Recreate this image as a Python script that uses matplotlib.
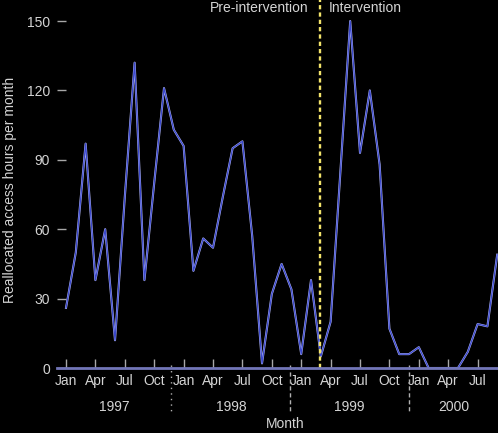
import numpy as np
import matplotlib
matplotlib.use("Agg")
import matplotlib.pyplot as plt
import matplotlib.transforms as mtransforms

# monthly reallocated access hours, Jan 1997 .. Sep 2000
hours = [26, 50, 97, 38, 60, 12, 74, 132, 38, 80, 121, 103,
         96, 42, 56, 52, 74, 95, 98, 57, 2, 32, 45, 34,
         6, 38, 5, 20, 85, 150, 93, 120, 88, 17, 6, 6,
         9, 0, 0, 0, 0, 7, 19, 18, 49]
month_names = ["Jan", "Apr", "Jul", "Oct"]
years = ["1997", "1998", "1999", "2000"]
year_breaks = [10.75, 22.9, 35.0]
intervention_at = 25.9

bg = "black"
txt = "#d4d4d4"
axcol = "#7276b8"
fs = 10

plt.rcParams['font.family'] = ['Liberation Sans', 'DejaVu Sans']

fig = plt.figure(figsize=(4.98, 4.33), dpi=100, facecolor=bg)
ax = fig.add_axes([57/498, 65/433, 441/498, 368/433], facecolor=bg)

x = np.arange(len(hours))
ax.plot(x, hours, color="#b4b9f0", lw=1.5)
ax.plot(x, hours, color="#3a47cc", lw=0.9)

ax.set_xlim(-0.92, 44.08)
ax.set_ylim(0, 159.1)

for s in ["top", "right", "left"]:
    ax.spines[s].set_visible(False)
ax.spines["bottom"].set_color(axcol)
ax.spines["bottom"].set_linewidth(2)

ticks = np.arange(0, len(hours), 3)
ax.set_xticks(ticks)
ax.set_xticklabels([month_names[i % 4] for i in range(len(ticks))])
ax.tick_params(axis="x", direction="in", length=6.5, width=1, color="#a8a8a8",
               labelcolor=txt, labelsize=fs, pad=4)

ax.set_yticks([0, 30, 60, 90, 120, 150])
ax.tick_params(axis="y", direction="in", length=6.5, width=1, labelsize=fs,
               labelcolor=txt, color="#a8a8a8", pad=5)

# intervention marker
ax.axvline(intervention_at, ymin=0, ymax=1, color="#f2e36a", lw=1.7,
           dashes=(1.8, 1.3))
ax.text(intervention_at - 1.2, 155.5, "Pre-intervention", color=txt,
        fontsize=fs, ha="right", va="center")
ax.text(intervention_at + 0.9, 155.5, "Intervention", color=txt,
        fontsize=fs, ha="left", va="center")

# year separators and labels under the axis
trans = mtransforms.blended_transform_factory(ax.transData, fig.transFigure)
styles = [(0, (1, 3)), (0, (3, 2)), (0, (3, 2))]
for b, ls in zip(year_breaks, styles):
    ax.plot([b, b], [1 - 365/433, 1 - 412/433], color="#b0b0b0", lw=1,
            linestyle=ls, transform=trans, clip_on=False)
edges = [-0.92] + year_breaks + [44.08]
for i, y in enumerate(years):
    xm = (edges[i] + edges[i + 1]) / 2
    ax.text(xm, 1 - 407/433, y, color=txt, fontsize=fs, ha="center",
            va="center", transform=trans)

fig.text(285/498, 1 - 424/433, "Month", color=txt, fontsize=fs,
         ha="center", va="center")
fig.text(10/498, 1 - 190/433, "Reallocated access hours per month",
         color=txt, fontsize=fs, rotation=90, ha="center", va="center")

fig.savefig("out.png", dpi=100, facecolor=bg)
